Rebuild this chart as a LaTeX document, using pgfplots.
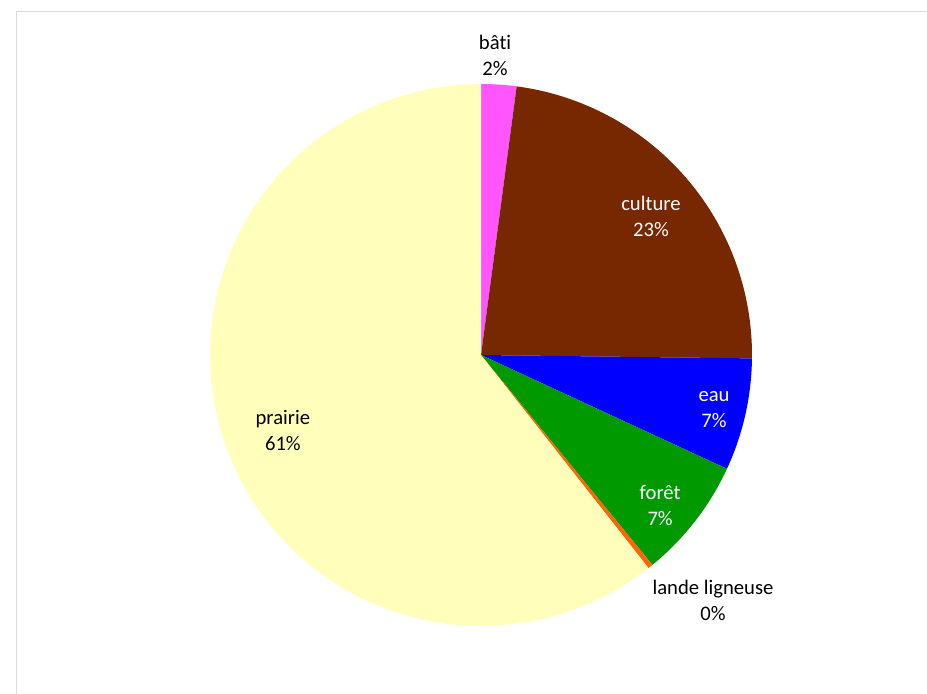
\documentclass[border=0pt]{standalone}
\usepackage{pgfplots}
\pgfplotsset{compat=1.18}
\usepackage{fontspec}
\setmainfont{Carlito}[Ligatures={NoCommon}]
\definecolor{cbati}{HTML}{FF55FF}
\definecolor{cculture}{HTML}{772800}
\definecolor{ceau}{HTML}{0000FF}
\definecolor{cforet}{HTML}{009900}
\definecolor{clande}{HTML}{FF6600}
\definecolor{cprairie}{HTML}{FFFFBB}
\definecolor{cframe}{HTML}{D9D9D9}
\tikzset{lbl/.style={font=\fontsize{15.5pt}{19.5pt}\selectfont, align=center, inner sep=0pt}}
\begin{document}
\begin{tikzpicture}
\draw[cframe, line width=1.3pt] (12.4pt,-20pt) -- (12.4pt,511.1pt) -- (720pt,511.1pt);
\begin{axis}[
  at={(360.75pt,253.5pt)}, anchor=center,
  scale only axis, width=406.5pt, height=406.5pt,
  xmin=-1, xmax=1, ymin=-1, ymax=1,
  hide axis, clip=false,
]
\def\cum{0}
\pgfplotsforeachungrouped \v/\c in {2.1/cbati, 23.1/cculture, 6.7/ceau, 7.2/cforet, 0.3/clande, 60.6/cprairie}{%
  \pgfmathsetmacro\a{90-3.6*(\cum+\v)}%
  \pgfmathsetmacro\b{90-3.6*\cum}%
  \edef\tmp{\noexpand\addplot[fill=\c, draw=none, domain=\a:\b, samples=90] ({cos(x)},{sin(x)}) -- (axis cs:0,0) -- cycle;}%
  \tmp
  \pgfmathsetmacro\cum{\cum+\v}%
}
\node[lbl] at (axis cs:0.052,1.107) {bâti\\2\%};
\node[lbl, white] at (axis cs:0.627,0.513) {culture\\23\%};
\node[lbl, white] at (axis cs:0.860,-0.203) {eau\\7\%};
\node[lbl, white] at (axis cs:0.661,-0.554) {forêt\\7\%};
\node[lbl] at (axis cs:0.856,-0.904) {lande ligneuse\\0\%};
\node[lbl] at (axis cs:-0.731,-0.277) {prairie\\61\%};
\end{axis}
\pgfresetboundingbox
\path[use as bounding box] (0,0) rectangle (695.25pt,519.75pt);
\end{tikzpicture}
\end{document}
